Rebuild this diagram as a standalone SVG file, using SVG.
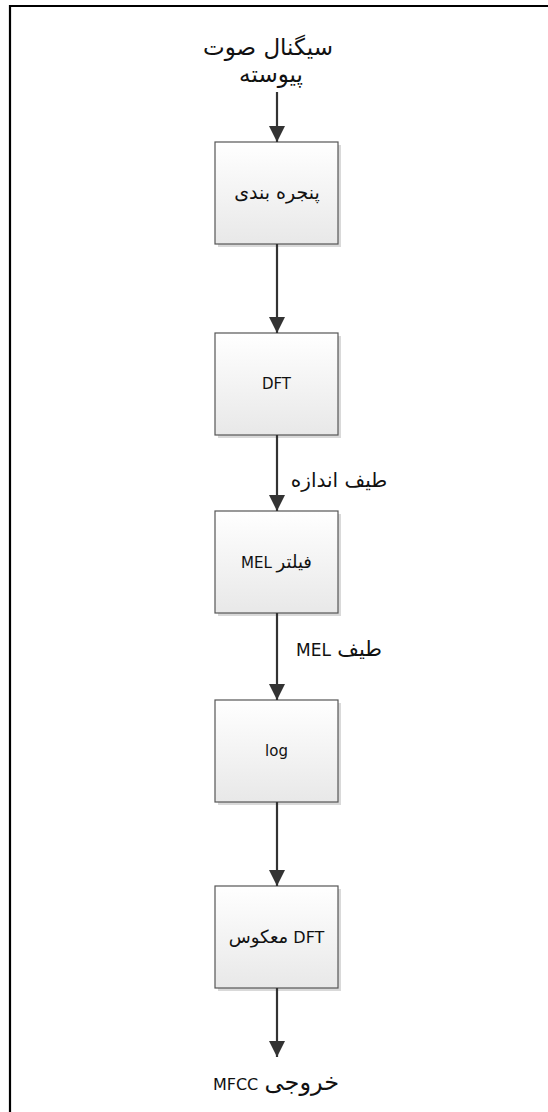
<svg xmlns="http://www.w3.org/2000/svg" width="548" height="1112" viewBox="0 0 548 1112">
<defs>
<linearGradient id="g" x1="0" y1="0" x2="0" y2="1">
<stop offset="0" stop-color="#ffffff"/>
<stop offset="1" stop-color="#e8e8e8"/>
</linearGradient>
<marker id="ah" markerUnits="userSpaceOnUse" markerWidth="16" markerHeight="16" viewBox="0 0 16 16" refX="16" refY="8" orient="auto">
<path d="M0,0 L16,8 L0,16 Z" fill="#333"/>
</marker>
</defs>
<style>
.box{fill:url(#g);stroke:#555;stroke-width:1.2}
.sh{fill:#d9d9d9}
.bt{font-family:"DejaVu Sans","Open Sans",sans-serif;font-size:15px;fill:#111;text-anchor:middle;direction:rtl}
.lt{font-family:"DejaVu Sans",sans-serif;font-size:20px;fill:#111;text-anchor:middle;direction:rtl}
.ar{font-size:18px}
.c{stroke:#333;stroke-width:2.2;fill:none;marker-end:url(#ah)}
</style>
<rect width="548" height="1112" fill="#fff"/>
<path d="M10,1112 L10,6 L548,6" fill="none" stroke="#000" stroke-width="2.2"/>
<g id="label-input">
<text class="lt" x="268" y="55" style="font-size:23px">سیگنال صوت</text>
<text class="lt" x="271" y="82" style="font-size:23px">پیوسته</text>
</g>
<g id="n1">
<rect class="sh" x="218" y="145" width="123" height="102"/>
<rect class="box" x="215" y="142" width="123" height="102"/>
<text class="bt" x="277" y="199" style="font-size:19px">پنجره بندی</text>
</g>
<g id="n2">
<rect class="sh" x="218" y="336" width="123" height="102"/>
<rect class="box" x="215" y="333" width="123" height="102"/>
<text class="bt" x="276.5" y="389">DFT</text>
</g>
<g id="n3">
<rect class="sh" x="218" y="514" width="123" height="102"/>
<rect class="box" x="215" y="511" width="123" height="102"/>
<text class="bt" x="276.5" y="568"><tspan class="ar">فیلتر</tspan> MEL</text>
</g>
<g id="n4">
<rect class="sh" x="218" y="703" width="123" height="102"/>
<rect class="box" x="215" y="700" width="123" height="102"/>
<text class="bt" x="276.5" y="756">log</text>
</g>
<g id="n5">
<rect class="sh" x="218" y="889" width="123" height="102"/>
<rect class="box" x="215" y="886" width="123" height="102"/>
<text class="bt" x="276.5" y="943" style="font-size:16px">DFT <tspan class="ar">معکوس</tspan></text>
</g>
<g id="connectors">
<line class="c" x1="277" y1="92" x2="277" y2="142"/>
<line class="c" x1="277" y1="244" x2="277" y2="333"/>
<line class="c" x1="277" y1="435" x2="277" y2="511"/>
<line class="c" x1="277" y1="613" x2="277" y2="700"/>
<line class="c" x1="277" y1="802" x2="277" y2="886"/>
<line class="c" x1="277" y1="988" x2="277" y2="1057"/>
</g>
<g id="edge-labels">
<text class="lt" x="339" y="487">طیف اندازه</text>
<text class="lt" x="339" y="656"><tspan style="font-size:21px">طیف</tspan> <tspan style="font-size:17px">MEL</tspan></text>
<text class="lt" x="276" y="1090"><tspan style="font-size:24px">خروجی</tspan> <tspan style="font-size:16px">MFCC</tspan></text>
</g>
</svg>
